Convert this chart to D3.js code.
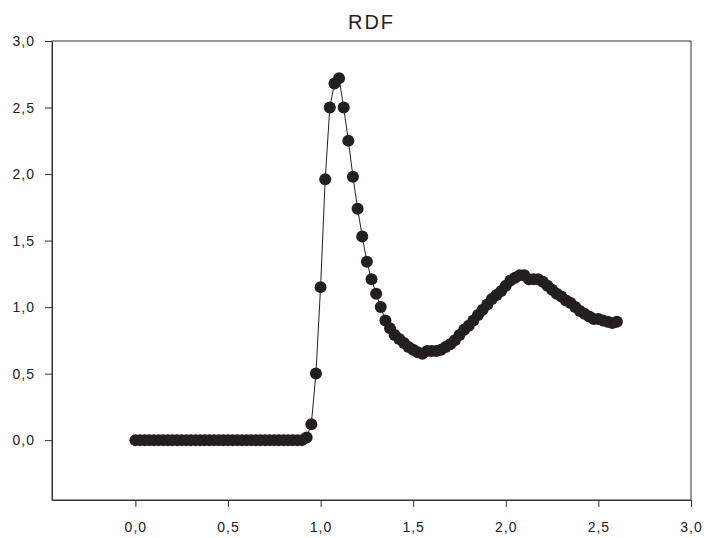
<!DOCTYPE html>
<html>
<head>
<meta charset="utf-8">
<script src="https://cdn.jsdelivr.net/npm/d3@7"></script>
<style>
  body { margin: 0; background: #fff; }
  svg { display: block; font-family: "Liberation Sans", Arial, sans-serif; }
</style>
</head>
<body>
<svg id="chart" width="704" height="538"></svg>
<script>
// distance r
const rValues = [
  0.000, 0.025, 0.050, 0.075, 0.100, 0.125, 0.150, 0.175, 0.200, 0.225,
  0.250, 0.275, 0.300, 0.325, 0.350, 0.375, 0.400, 0.425, 0.450, 0.475,
  0.500, 0.525, 0.550, 0.575, 0.600, 0.625, 0.650, 0.675, 0.700, 0.725,
  0.750, 0.775, 0.800, 0.825, 0.850, 0.875, 0.900, 0.925, 0.950, 0.975,
  1.000, 1.025, 1.050, 1.075, 1.100, 1.125, 1.150, 1.175, 1.200, 1.225,
  1.250, 1.275, 1.300, 1.325, 1.350, 1.375, 1.400, 1.425, 1.450, 1.475,
  1.500, 1.525, 1.550, 1.575, 1.600, 1.625, 1.650, 1.675, 1.700, 1.725,
  1.750, 1.775, 1.800, 1.825, 1.850, 1.875, 1.900, 1.925, 1.950, 1.975,
  2.000, 2.025, 2.050, 2.075, 2.100, 2.125, 2.150, 2.175, 2.200, 2.225,
  2.250, 2.275, 2.300, 2.325, 2.350, 2.375, 2.400, 2.425, 2.450, 2.475,
  2.500, 2.525, 2.550, 2.575, 2.600
];

// g(r)
const gValues = [
  0, 0, 0, 0, 0, 0, 0, 0, 0, 0,
  0, 0, 0, 0, 0, 0, 0, 0, 0, 0,
  0, 0, 0, 0, 0, 0, 0, 0, 0, 0,
  0, 0, 0, 0, 0, 0, 0, 0.02, 0.12, 0.50,
  1.15, 1.96, 2.50, 2.68, 2.72, 2.50, 2.25, 1.98, 1.74, 1.53,
  1.34, 1.21, 1.10, 1.00, 0.90, 0.84, 0.79, 0.76, 0.73, 0.70,
  0.68, 0.66, 0.65, 0.67, 0.67, 0.67, 0.68, 0.70, 0.72, 0.75,
  0.79, 0.83, 0.86, 0.90, 0.94, 0.98, 1.02, 1.06, 1.09, 1.12,
  1.16, 1.20, 1.22, 1.24, 1.24, 1.21, 1.21, 1.21, 1.19, 1.16,
  1.13, 1.10, 1.08, 1.05, 1.03, 1.00, 0.97, 0.95, 0.93, 0.91,
  0.91, 0.90, 0.89, 0.88, 0.89
];

const xTicks = [0, 0.5, 1, 1.5, 2, 2.5, 3];
const yTicks = [0, 0.5, 1, 1.5, 2, 2.5, 3];
const title = "RDF";

const data = rValues.map((r, i) => ({ r: r, g: gValues[i] }));

const svg = d3.select("#chart");
const margin = { top: 41, right: 13, bottom: 38, left: 52 };
const width = 704 - margin.left - margin.right;
const height = 538 - margin.top - margin.bottom;

const x = d3.scaleLinear().domain([-0.45, 3.0]).range([0, width]);
const y = d3.scaleLinear().domain([-0.45, 3.0]).range([height, 0]);

const fmt = d => d3.format(".1f")(d).replace(".", ",");

const g = svg.append("g").attr("transform", `translate(${margin.left},${margin.top})`);

// frame
g.append("rect")
  .attr("x", 0).attr("y", 0)
  .attr("width", width).attr("height", height)
  .attr("fill", "none").attr("stroke", "#333").attr("stroke-width", 1);

const xAxis = g.append("g")
  .attr("transform", `translate(0,${height})`)
  .call(d3.axisBottom(x).tickValues(xTicks).tickFormat(fmt)
    .tickSize(7).tickSizeOuter(0).tickPadding(15));

const yAxis = g.append("g")
  .call(d3.axisLeft(y).tickValues(yTicks).tickFormat(fmt)
    .tickSize(7).tickSizeOuter(0).tickPadding(10));

[xAxis, yAxis].forEach(a => {
  a.select(".domain").attr("stroke", "#333");
  a.selectAll(".tick line").attr("stroke", "#333");
  a.selectAll(".tick text")
    .attr("fill", "#222")
    .style("font-size", "14px")
    .style("letter-spacing", "1px");
});

// line
g.append("path")
  .datum(data)
  .attr("fill", "none")
  .attr("stroke", "#231f20")
  .attr("stroke-width", 1)
  .attr("d", d3.line().x(d => x(d.r)).y(d => y(d.g)));

// dots
g.selectAll(".dot")
  .data(data)
  .join("circle")
  .attr("class", "dot")
  .attr("cx", d => x(d.r))
  .attr("cy", d => y(d.g))
  .attr("r", 6)
  .attr("fill", "#231f20");

svg.append("text")
  .attr("x", margin.left + width / 2)
  .attr("y", 29)
  .attr("text-anchor", "middle")
  .attr("fill", "#222")
  .style("font-size", "20px")
  .style("letter-spacing", "2px")
  .text(title);
</script>
</body>
</html>
